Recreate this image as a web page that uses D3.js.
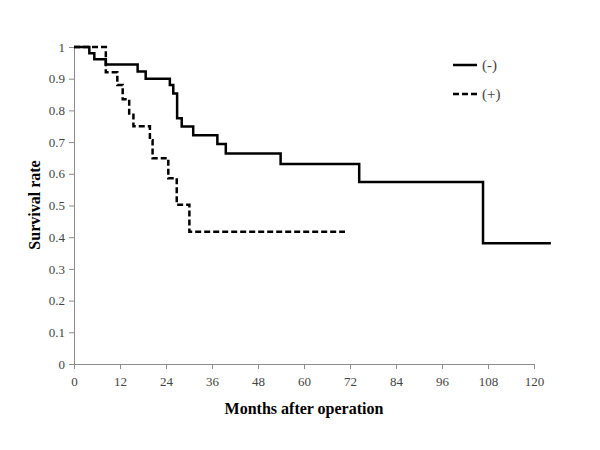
<!DOCTYPE html>
<html><head><meta charset="utf-8">
<script src="https://cdn.jsdelivr.net/npm/d3@7"></script>
<style>body{margin:0;background:#fff}svg{display:block}</style>
</head><body>
<svg id="c" width="600" height="450"></svg>
<script>
// Kaplan-Meier step data (month of drop, survival after drop)
const negTimes  = [0, 4.0, 5.3, 8.3, 16.6, 18.7, 25.0, 25.9, 26.9, 28.1, 31.1, 37.4, 39.6, 53.9, 74.4, 106.7];
const negValues = [1, 0.98, 0.961, 0.945, 0.923, 0.90, 0.88, 0.853, 0.775, 0.749, 0.722, 0.694, 0.664, 0.631, 0.574, 0.381];
const negEnd = 124.4;
const posTimes  = [0, 8.3, 11.3, 12.7, 14.4, 15.5, 19.8, 20.5, 24.6, 26.8, 30.1];
const posValues = [1, 0.92, 0.88, 0.835, 0.79, 0.75, 0.706, 0.649, 0.586, 0.502, 0.417];
const posEnd = 70.7;
const xTicks = [0, 12, 24, 36, 48, 60, 72, 84, 96, 108, 120];
const yTicks = [0, 0.1, 0.2, 0.3, 0.4, 0.5, 0.6, 0.7, 0.8, 0.9, 1];
const seriesLabels = ["(-)", "(+)"];

const svg = d3.select("#c");
const x = d3.scaleLinear().domain([0, 120]).range([74, 534]);
const y = d3.scaleLinear().domain([0, 1]).range([364, 47]);
const font = "'Liberation Serif','Times New Roman',serif";

const xa = svg.append("g").attr("transform", "translate(0,364)")
  .call(d3.axisBottom(x).tickValues(xTicks).tickSize(5).tickSizeOuter(0).tickPadding(8));
const ya = svg.append("g").attr("transform", "translate(74,0)")
  .call(d3.axisLeft(y).tickValues(yTicks).tickSize(5).tickSizeOuter(0).tickPadding(4).tickFormat(d => d3.format("")(d)));
[xa, ya].forEach(a => {
  a.selectAll("path,line").attr("stroke", "#8c8c8c").attr("stroke-width", 1);
  a.selectAll("text").attr("font-family", font).attr("font-size", 13).attr("fill", "#444");
});

const line = d3.line().x(d => x(d[0])).y(d => y(d[1])).curve(d3.curveStepAfter);
function pts(t, v, end) { const p = t.map((tt, i) => [tt, v[i]]); p.push([end, v[v.length - 1]]); return p; }

svg.append("path").datum(pts(negTimes, negValues, negEnd)).attr("d", line)
  .attr("fill", "none").attr("stroke", "#000").attr("stroke-width", 2.5);
svg.append("path").datum(pts(posTimes, posValues, posEnd)).attr("d", line)
  .attr("fill", "none").attr("stroke", "#000").attr("stroke-width", 2.5).attr("stroke-dasharray", "6,3");

// legend
const lg = svg.append("g");
[0, 1].forEach(i => {
  const yy = i === 0 ? 65 : 94;
  lg.append("line").attr("x1", 453).attr("x2", 477).attr("y1", yy).attr("y2", yy)
    .attr("stroke", "#000").attr("stroke-width", 2.5).attr("stroke-dasharray", i ? "6,3" : null);
  lg.append("text").attr("x", 482).attr("y", yy + 5).text(seriesLabels[i])
    .attr("font-family", font).attr("font-size", 15).attr("fill", "#444");
});

svg.append("text").attr("x", 304).attr("y", 414).attr("text-anchor", "middle")
  .attr("font-family", font).attr("font-size", 16).attr("font-weight", "bold").text("Months after operation");
svg.append("text").attr("transform", "translate(40,205) rotate(-90)").attr("text-anchor", "middle")
  .attr("font-family", font).attr("font-size", 16).attr("font-weight", "bold").text("Survival rate");
</script>
</body></html>
